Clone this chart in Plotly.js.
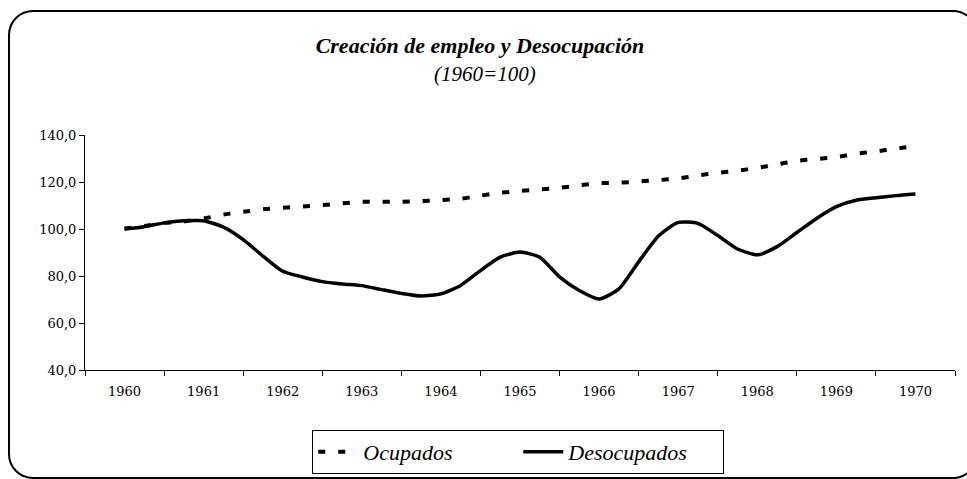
<!DOCTYPE html>
<html>
<head>
<meta charset="utf-8">
<script src="https://cdn.plot.ly/plotly-3.0.1.min.js"></script>
<style>
  html, body { margin: 0; padding: 0; background: #fff; overflow: hidden; }
  #wrap { position: relative; width: 967px; height: 479px; overflow: hidden; }
  #chart { position: absolute; left: 0; top: 0; width: 967px; height: 479px; }
  #frame { position: absolute; left: 8px; top: 10px; width: 970px; height: 469px;
           box-sizing: border-box; border: 2px solid #000; border-radius: 25px; pointer-events: none; }
</style>
</head>
<body>
<div id="wrap">
  <div id="chart"></div>
  <div id="frame"></div>
</div>
<script>
// Quarterly readings, 1960 Q1 .. 1970 Q1 (1960 = 100)
const periods = [
  1960.00, 1960.25, 1960.50, 1960.75,
  1961.00, 1961.25, 1961.50, 1961.75,
  1962.00, 1962.25, 1962.50, 1962.75,
  1963.00, 1963.25, 1963.50, 1963.75,
  1964.00, 1964.25, 1964.50, 1964.75,
  1965.00, 1965.25, 1965.50, 1965.75,
  1966.00, 1966.25, 1966.50, 1966.75,
  1967.00, 1967.25, 1967.50, 1967.75,
  1968.00, 1968.25, 1968.50, 1968.75,
  1969.00, 1969.25, 1969.50, 1969.75,
  1970.00
];
const ocupados = [
  100.2, 101.3, 102.5, 103.2,
  104.5, 106.1, 107.3, 108.4,
  109.0, 109.6, 110.2, 110.9,
  111.6, 111.6, 111.6, 111.9,
  112.3, 112.9, 114.2, 115.4,
  116.2, 116.8, 117.5, 118.6,
  119.5, 119.7, 120.2, 120.8,
  121.5, 122.8, 123.9, 124.8,
  126.0, 127.5, 129.0, 129.8,
  130.6, 132.0, 133.0, 134.2,
  135.3
];
const desocupados = [
  100.0, 101.0, 102.6, 103.5,
  103.5, 100.8, 95.5, 88.5,
  82.0, 79.6, 77.6, 76.6,
  75.9, 74.2, 72.6, 71.5,
  72.4, 76.0, 82.3, 88.0,
  90.2, 88.0, 79.6, 73.8,
  70.2, 74.5, 86.0, 97.0,
  102.8, 102.4, 97.2, 91.5,
  89.0, 92.5, 98.5, 104.5,
  109.5, 112.2, 113.3, 114.2,
  114.9
];
const yearTicks = [1960, 1961, 1962, 1963, 1964, 1965, 1966, 1967, 1968, 1969, 1970];
const yearLabels = ["1960", "1961", "1962", "1963", "1964", "1965", "1966", "1967", "1968", "1969", "1970"];
const seriesNames = ["Ocupados", "Desocupados"];
const titleText = "Creación de empleo y Desocupación";
const subtitleText = "(1960=100)";

const serif = "Liberation Serif";
const tickSerif = "DejaVu Serif";

const traces = [
  {
    x: periods, y: ocupados, name: seriesNames[0], type: "scatter", mode: "lines",
    line: { color: "#000", width: 4, dash: "7px,13px", shape: "spline", smoothing: 0.6 },
    hoverinfo: "skip"
  },
  {
    x: periods, y: desocupados, name: seriesNames[1], type: "scatter", mode: "lines",
    line: { color: "#000", width: 3.5, shape: "spline", smoothing: 0.6 },
    hoverinfo: "skip"
  }
];

const layout = {
  width: 967, height: 479,
  margin: { l: 85, r: 12, t: 135, b: 109, pad: 0, autoexpand: false },
  paper_bgcolor: "#fff", plot_bgcolor: "#fff",
  separators: ",.",
  font: { family: serif, color: "#000", size: 14 },
  title: {
    text: "<b><i>" + titleText + "</i></b>",
    font: { family: serif, size: 22, color: "#000" },
    x: (480 - 85) / 870, xanchor: "center", xref: "paper",
    y: 1 - 45 / 479, yanchor: "middle", yref: "container"
  },
  annotations: [{
    text: "<i>" + subtitleText + "</i>",
    xref: "paper", yref: "paper", x: (485 - 85) / 870, y: (370 - 74) / 235,
    xanchor: "center", yanchor: "middle", showarrow: false,
    font: { family: serif, size: 21, color: "#000" }
  }],
  xaxis: {
    range: [1959.5, 1970.5], fixedrange: true, automargin: false,
    tickmode: "array", tickvals: yearTicks, ticktext: yearLabels,
    ticks: "outside", ticklen: 9, tickcolor: "rgba(0,0,0,0)",
    minor: { tick0: 1959.5, dtick: 1, ticks: "outside", ticklen: 5, tickcolor: "#000", tickwidth: 1 },
    showline: true, linecolor: "#000", linewidth: 1,
    showgrid: false, zeroline: false,
    tickfont: { family: tickSerif, size: 13, color: "#000" }
  },
  yaxis: {
    range: [40, 140], fixedrange: true, automargin: false,
    tick0: 40, dtick: 20, tickformat: ".1f",
    ticks: "outside", ticklen: 5, tickcolor: "#000",
    showline: true, linecolor: "#000", linewidth: 1,
    showgrid: false, zeroline: false,
    tickfont: { family: tickSerif, size: 13, color: "#000" }
  },
  showlegend: true,
  legend: {
    orientation: "h",
    x: 0.498, xanchor: "center", xref: "paper",
    y: (370 - 430) / 235, yanchor: "top", yref: "paper",
    bordercolor: "#000", borderwidth: 1, bgcolor: "#fff",
    font: { family: serif, size: 22, color: "#000", style: "italic" },
    entrywidth: 150, entrywidthmode: "pixels",
    itemwidth: 40
  }
};

Plotly.newPlot("chart", traces, layout, { staticPlot: true, displayModeBar: false });
</script>
</body>
</html>
